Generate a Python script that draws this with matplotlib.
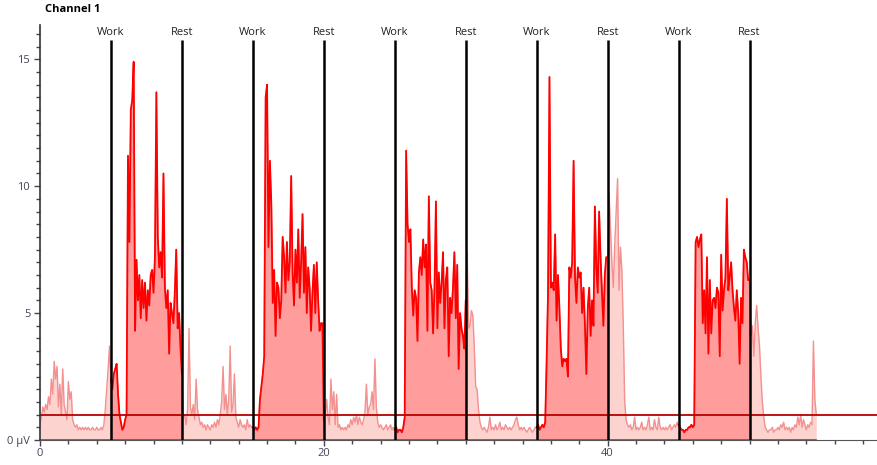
import numpy as np
import matplotlib
matplotlib.use("Agg")
import matplotlib.pyplot as plt

plt.rcParams['font.family'] = ['Open Sans', 'DejaVu Sans']

# EMG amplitude (uV), sampled every 0.1 s, in 5 s blocks
rest_0 = [0.6, 0.9, 1.3, 1.1, 1.4, 1.2, 1.7, 1.4, 2.4, 1.8,
          3.1, 2.4, 2.9, 1.3, 2.2, 1.0, 2.8, 1.4, 1.1, 0.8,
          2.3, 1.6, 1.9, 0.8, 0.6, 0.5, 0.6, 0.4, 0.5, 0.4,
          0.5, 0.4, 0.5, 0.4, 0.5, 0.4, 0.4, 0.5, 0.4, 0.4,
          0.5, 0.4, 0.4, 0.5, 0.4, 0.6, 1.2, 2.0, 2.8, 3.7]
work_1 = [2.4, 2.0, 2.6, 2.8, 3.0, 1.8, 1.0, 0.7, 0.4, 0.5,
          0.8, 1.0, 11.2, 7.8, 13.0, 13.4, 14.9, 4.3, 7.1, 5.5,
          6.5, 4.8, 6.3, 5.2, 6.2, 4.7, 5.9, 5.3, 6.5, 6.7,
          5.8, 7.2, 13.7, 8.0, 6.8, 7.4, 6.4, 10.5, 6.0, 5.2,
          5.9, 3.4, 5.4, 5.0, 4.6, 5.8, 7.5, 4.4, 5.0, 3.6]
rest_2 = [2.6, 0.9, 1.0, 0.6, 1.2, 4.4, 1.3, 1.0, 1.4, 0.8,
          2.4, 1.2, 0.9, 0.6, 0.7, 0.5, 0.6, 0.4, 0.6, 0.5,
          0.4, 0.6, 0.5, 0.7, 0.5, 0.8, 0.6, 1.0, 1.5, 2.9,
          1.2, 1.8, 1.0, 1.6, 3.7, 1.1, 1.4, 2.6, 0.9, 0.7,
          0.5, 0.8, 0.6, 0.5, 0.6, 0.4, 0.8, 0.5, 0.6, 0.5]
work_3 = [0.5, 0.4, 0.5, 0.4, 0.5, 1.6, 2.1, 2.6, 3.3, 13.5,
          14.0, 7.6, 11.0, 9.3, 5.4, 6.7, 4.1, 6.2, 6.0, 4.8,
          5.5, 8.0, 7.2, 5.8, 7.8, 6.3, 7.0, 10.4, 6.6, 5.3,
          7.5, 6.2, 8.3, 5.6, 7.0, 8.9, 5.8, 7.6, 5.0, 6.8,
          6.0, 4.3, 5.8, 6.9, 5.0, 7.0, 5.5, 4.3, 4.6, 4.6]
rest_4 = [0.8, 1.0, 1.6, 0.9, 0.6, 2.4, 1.2, 1.9, 0.6, 1.8,
          0.5, 0.6, 0.4, 0.5, 0.4, 0.5, 0.4, 0.6, 0.5, 0.8,
          0.6, 0.9, 0.7, 1.0, 0.6, 0.9, 0.7, 0.6, 0.8, 1.1,
          2.2, 1.0, 1.3, 1.4, 1.9, 1.2, 3.2, 1.3, 0.7, 0.5,
          0.6, 0.5, 0.4, 0.5, 0.6, 0.4, 0.5, 0.6, 0.4, 0.5]
work_5 = [0.4, 0.5, 0.3, 0.4, 0.4, 0.3, 0.5, 0.9, 11.4, 8.5,
          7.8, 8.3, 6.0, 4.9, 5.9, 5.6, 3.9, 6.6, 7.2, 6.5,
          7.9, 6.8, 7.7, 4.3, 9.6, 6.2, 5.9, 4.2, 6.0, 9.4,
          4.4, 6.6, 5.4, 6.2, 7.4, 4.4, 6.3, 6.8, 3.3, 5.6,
          5.0, 6.0, 7.4, 4.8, 6.9, 2.8, 5.0, 4.4, 4.1, 3.6]
rest_6 = [5.5, 7.4, 4.4, 4.5, 5.1, 4.9, 3.7, 2.1, 2.0, 1.2,
          0.7, 0.5, 0.4, 0.5, 0.4, 0.3, 0.5, 0.9, 0.4, 0.5,
          0.4, 0.6, 0.4, 0.5, 0.7, 0.4, 0.5, 0.4, 0.6, 0.5,
          0.4, 0.5, 0.4, 0.5, 0.6, 0.8, 0.9, 0.6, 0.4, 0.5,
          0.4, 0.5, 0.4, 0.3, 0.4, 0.5, 0.4, 0.3, 0.4, 0.5]
work_7 = [0.5, 0.6, 0.4, 0.5, 0.6, 0.5, 0.7, 3.1, 5.8, 14.3,
          6.0, 6.2, 5.9, 8.1, 4.7, 6.5, 5.2, 3.6, 2.9, 3.2,
          3.1, 3.2, 2.5, 6.8, 6.4, 7.0, 11.0, 6.4, 5.4, 6.8,
          6.4, 6.6, 5.0, 6.0, 4.5, 2.6, 5.2, 6.0, 4.1, 5.5,
          4.5, 9.2, 6.8, 5.8, 9.0, 7.2, 5.8, 4.5, 6.5, 7.2]
rest_8 = [7.2, 9.7, 8.4, 7.0, 6.0, 7.7, 9.0, 10.3, 5.9, 7.6,
          6.7, 4.5, 1.5, 0.8, 0.6, 0.5, 0.6, 0.4, 0.5, 0.9,
          0.4, 0.5, 0.4, 0.5, 0.7, 0.4, 0.5, 0.4, 0.6, 0.9,
          0.4, 0.5, 0.4, 0.8, 0.5, 0.4, 0.9, 0.5, 0.4, 0.5,
          0.4, 0.5, 0.4, 0.5, 0.6, 0.4, 0.5, 0.6, 0.5, 0.7]
work_9 = [0.6, 0.5, 0.4, 0.4, 0.3, 0.4, 0.4, 0.5, 0.5, 0.6,
          0.5, 0.6, 7.8, 8.0, 7.6, 7.9, 8.1, 4.6, 5.9, 4.2,
          7.2, 3.4, 6.3, 4.2, 5.5, 5.6, 5.2, 6.0, 5.8, 3.3,
          7.3, 5.1, 5.9, 6.4, 9.5, 5.9, 6.4, 7.0, 5.9, 5.2,
          4.7, 5.9, 5.0, 3.0, 5.6, 4.6, 7.5, 7.2, 7.0, 6.3]
rest_10 = [6.3, 4.1, 4.5, 3.3, 4.6, 5.3, 4.4, 3.7, 2.5, 1.5,
           0.9, 0.5, 0.4, 0.3, 0.4, 0.4, 0.5, 0.3, 0.4, 0.4,
           0.5, 0.4, 0.6, 0.5, 0.7, 0.4, 0.5, 0.4, 0.5, 0.3,
           0.5, 0.4, 0.6, 0.5, 0.9, 0.6, 1.0, 0.5, 0.8, 0.6,
           0.4, 0.6, 0.5, 0.7, 0.6, 3.9, 1.6, 1.0]

work_starts = [5, 15, 25, 35, 45]
rest_starts = [10, 20, 30, 40, 50]
threshold = 1.0
dt = 0.1

signal = np.array(rest_0 + work_1 + rest_2 + work_3 + rest_4 + work_5
                  + rest_6 + work_7 + rest_8 + work_9 + rest_10)
t = np.arange(len(signal)) * dt

fig = plt.figure(figsize=(8.78, 4.65), dpi=100)
ax = fig.add_axes([40 / 878, 25 / 465, 838 / 878, 415 / 465])

# whole trace, light
ax.fill_between(t, 0, signal, color='#fdd3cf', lw=0)
ax.plot(t, signal, color='#f39090', lw=1.0)

# work periods, strong
for ws, rs in zip(work_starts, rest_starts):
    m = (t >= ws - 1e-6) & (t <= rs + 1e-6)
    ax.fill_between(t[m], 0, signal[m], color='#ff9d9d', lw=0)
    ax.plot(t[m], signal[m], color='#ff0000', lw=1.3)

ax.plot([t[0], t[-1]], [0, 0], color='#c03030', lw=1.2)
ax.axhline(threshold, color='#b80000', lw=1.3)

for x in work_starts:
    ax.vlines(x, 0, 15.75, color='black', lw=1.8)
    ax.text(x, 15.85, 'Work', ha='center', va='bottom', fontsize=8, color='#222222')
for x in rest_starts:
    ax.vlines(x, 0, 15.75, color='black', lw=1.8)
    ax.text(x, 15.85, 'Rest', ha='center', va='bottom', fontsize=8, color='#222222')

ax.set_xlim(0, 59.05)
ax.set_ylim(0, 16.35)
ax.set_xticks([0, 20, 40])
ax.set_xticks(np.arange(0, 59, 2), minor=True)
ax.set_yticks([0, 5, 10, 15])
ax.set_yticklabels(['0 µV', '5', '10', '15'])
ax.set_yticks(np.arange(0, 16.3, 0.5), minor=True)
ax.tick_params(axis='both', labelsize=8, colors='#444455', length=4, width=1)
ax.tick_params(axis='both', which='minor', length=3, width=1, colors='#444455')
ax.tick_params(axis='x', pad=2)
ax.tick_params(axis='y', pad=3)

for s in ['top', 'right']:
    ax.spines[s].set_visible(False)
ax.spines['left'].set_color('#333333')
ax.spines['bottom'].set_color('#555555')
ax.spines['left'].set_linewidth(1.2)

fig.text(45 / 878, 1 - 10 / 465, 'Channel 1', fontsize=8, fontweight='bold',
         ha='left', va='center')

fig.savefig('out.png', dpi=100)
